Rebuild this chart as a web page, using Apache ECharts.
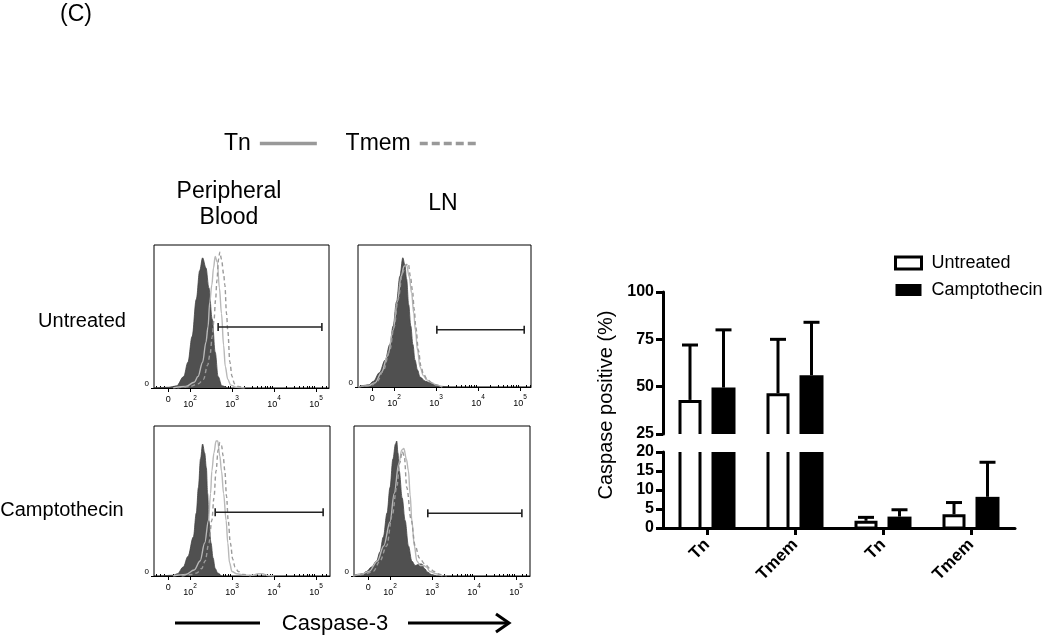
<!DOCTYPE html>
<html>
<head>
<meta charset="utf-8">
<script src="https://cdn.jsdelivr.net/npm/echarts@6/dist/echarts.min.js"></script>
<style>html,body{margin:0;padding:0;background:#fff}#c{width:1050px;height:638px}</style>
</head>
<body>
<div id="c"></div>
<script>
// ---------- Histogram data (x in display decades: "0"=1.48, 10^2=2, 10^3=3 ...; y = % of max) ----------
var xTickValues = [1.48, 2, 3, 4, 5];
var xTickLabels = ['0', '{n|10}{s|2}', '{n|10}{s|3}', '{n|10}{s|4}', '{n|10}{s|5}'];
var xMinorTicks = [1.2, 1.3, 1.38, 1.6, 1.7, 1.78, 1.85, 1.9, 1.95,
  2.3, 2.48, 2.6, 2.7, 2.78, 2.85, 2.9, 2.95,
  3.3, 3.48, 3.6, 3.7, 3.78, 3.85, 3.9, 3.95,
  4.3, 4.48, 4.6, 4.7, 4.78, 4.85, 4.9, 4.95, 5.15, 5.25];

var pbUntreatedCtrl = [[1.15,0],[1.5,0.5],[1.68,1.5],[1.85,8],[1.95,18],[2.05,36],[2.15,62],[2.23,82],[2.3,91],[2.38,84],[2.45,70],[2.53,48],[2.6,25],[2.67,8],[2.76,1.5],[2.9,0]];
var pbUntreatedTn = [[1.6,0],[1.9,1],[2.1,4],[2.19,8],[2.3,18],[2.38,32],[2.43,43],[2.47,60],[2.52,72],[2.56,84],[2.6,92],[2.65,88],[2.7,70],[2.75,52],[2.8,30],[2.84,15],[2.9,6],[2.97,2],[3.1,0.5],[3.3,0]];
var pbUntreatedTmem = [[1.7,0],[2.0,1],[2.2,3],[2.32,6],[2.42,16],[2.48,24],[2.53,36],[2.57,47],[2.61,62],[2.64,75],[2.68,90],[2.71,95],[2.75,90],[2.8,80],[2.83,72],[2.87,52],[2.9,40],[2.95,18],[3.0,8],[3.06,3],[3.15,1],[3.3,0]];

var lnUntreatedCtrl = [[1.15,0],[1.25,1],[1.4,1.5],[1.51,4],[1.65,10],[1.79,19],[1.9,30],[1.98,43],[2.06,60],[2.14,78],[2.21,91],[2.26,86],[2.3,76],[2.35,58],[2.4,43],[2.45,30],[2.5,19],[2.56,12],[2.62,7],[2.75,4],[2.86,3],[3.0,1.5],[3.1,0.5],[3.3,0]];
var lnUntreatedTn = [[1.15,0],[1.4,1],[1.55,3],[1.7,10],[1.85,22],[1.98,40],[2.08,60],[2.17,78],[2.24,85],[2.3,86],[2.36,78],[2.42,66],[2.47,52],[2.51,40],[2.56,26],[2.62,14],[2.7,8],[2.78,5],[2.9,3],[3.0,1.5],[3.15,0]];
var lnUntreatedTmem = [[1.15,0],[1.45,1],[1.6,4],[1.75,12],[1.9,26],[2.0,42],[2.1,62],[2.2,80],[2.28,86],[2.34,87],[2.39,78],[2.44,68],[2.48,55],[2.52,42],[2.58,26],[2.64,15],[2.7,9],[2.8,5],[2.9,3],[3.0,1.5],[3.15,0]];

var pbCamptoCtrl = [[1.3,0],[1.6,0.5],[1.7,1.5],[1.84,6],[1.95,13],[2.08,26],[2.15,42],[2.2,59],[2.25,78],[2.3,88],[2.35,82],[2.39,72],[2.42,55],[2.45,37],[2.5,22],[2.55,12],[2.6,5],[2.66,2],[2.75,0]];
var pbCamptoTn = [[1.6,0],[1.9,1],[2.1,4],[2.24,10],[2.35,22],[2.44,37],[2.49,55],[2.52,70],[2.57,82],[2.62,90],[2.66,90],[2.71,80],[2.75,70],[2.8,55],[2.86,37],[2.9,22],[2.94,9],[3.0,3],[3.11,1.5],[3.3,0.5],[3.5,0.5],[3.62,1.5],[3.72,1.5],[3.85,0.3],[4.0,0]];
var pbCamptoTmem = [[1.8,0],[2.05,1],[2.16,2],[2.28,5],[2.36,10],[2.45,22],[2.52,37],[2.57,52],[2.62,70],[2.67,84],[2.71,89],[2.75,87],[2.79,80],[2.83,70],[2.87,53],[2.91,37],[2.96,22],[3.02,11],[3.07,6],[3.15,3],[3.27,1],[3.45,0]];

var lnCamptoCtrl = [[1.12,0],[1.2,1],[1.35,1.5],[1.44,3],[1.56,6],[1.68,10],[1.76,16],[1.84,26],[1.93,42],[2.0,59],[2.07,78],[2.13,88],[2.16,90],[2.19,82],[2.22,70],[2.29,52],[2.36,37],[2.44,20],[2.52,10],[2.6,7],[2.7,8],[2.76,8],[2.82,5],[2.9,2.5],[2.99,1],[3.1,0]];
var lnCamptoTn = [[1.12,0],[1.3,1],[1.5,3],[1.7,10],[1.85,20],[2.0,36],[2.1,55],[2.21,75],[2.28,84],[2.33,85],[2.39,78],[2.44,70],[2.48,54],[2.52,37],[2.58,20],[2.64,10],[2.72,7],[2.8,7],[2.87,6],[2.95,3],[3.1,1.5],[3.25,0]];
var lnCamptoTmem = [[1.12,0],[1.35,1],[1.6,3],[1.76,10],[1.92,20],[2.05,40],[2.16,59],[2.23,75],[2.29,83],[2.34,80],[2.4,59],[2.5,38],[2.6,20],[2.7,12],[2.83,8],[2.95,5],[3.05,3],[3.19,1],[3.35,0]];

// gates: [xStart, xEnd, y]
var pbUntreatedGate = [2.67, 5.14, 42.7];
var lnUntreatedGate = [3.02, 5.10, 40.4];
var pbCamptoGate = [2.6, 5.17, 42.5];
var lnCamptoGate = [2.9, 5.14, 41.8];

// ---------- Bar chart data ----------
var categories = ['Tn', 'Tmem', 'Tn', 'Tmem'];
var untreatedMean = [43, 46.5, 1.9, 3.6];
var untreatedSD = [29, 28.5, 0.9, 3.1];
var camptoMean = [49.5, 56, 3.0, 8.2];
var camptoSD = [30.5, 28, 1.8, 9.1];

var FONT = 'Liberation Sans, Arial, sans-serif';

var panels = [
  {grid: {left: 154, top: 245, width: 175, height: 143}, ctrl: pbUntreatedCtrl, tn: pbUntreatedTn, tmem: pbUntreatedTmem, gate: pbUntreatedGate},
  {grid: {left: 358, top: 245, width: 173, height: 142}, ctrl: lnUntreatedCtrl, tn: lnUntreatedTn, tmem: lnUntreatedTmem, gate: lnUntreatedGate},
  {grid: {left: 154, top: 426, width: 176, height: 150}, ctrl: pbCamptoCtrl, tn: pbCamptoTn, tmem: pbCamptoTmem, gate: pbCamptoGate},
  {grid: {left: 354, top: 426, width: 176, height: 150}, ctrl: lnCamptoCtrl, tn: lnCamptoTn, tmem: lnCamptoTmem, gate: lnCamptoGate}
];

var grids = [], xAxes = [], yAxes = [], series = [];
panels.forEach(function (p, i) {
  grids.push(Object.assign({show: true, borderColor: '#000', borderWidth: 1, backgroundColor: '#fff', containLabel: false}, p.grid));
  var xmax = 2 + (p.grid.width - 36) / 42;
  xAxes.push({
    type: 'value', gridIndex: i, min: 1.143, max: xmax, splitLine: {show: false},
    axisLine: {show: true, onZero: false, lineStyle: {color: '#000', width: 1}},
    axisTick: {show: true, customValues: xTickValues, length: 4, lineStyle: {color: '#000', width: 1}},
    axisLabel: {
      show: true, customValues: xTickValues, margin: 7, color: '#000', fontFamily: FONT, fontSize: 9,
      formatter: function (v) {
        var best = 0;
        for (var k = 0; k < xTickValues.length; k++) if (Math.abs(xTickValues[k] - v) < Math.abs(xTickValues[best] - v)) best = k;
        return xTickLabels[best];
      },
      rich: {
        n: {fontSize: 9, fontFamily: FONT, color: '#000', verticalAlign: 'bottom', lineHeight: 14},
        s: {fontSize: 6.5, fontFamily: FONT, color: '#000', verticalAlign: 'top', lineHeight: 14}
      }
    }
  });
  xAxes.push({
    type: 'value', gridIndex: i, min: 1.143, max: xmax, splitLine: {show: false},
    axisLine: {show: false},
    axisTick: {show: true, customValues: xMinorTicks, length: 2, lineStyle: {color: '#000', width: 1}},
    axisLabel: {show: false}
  });
  yAxes.push({
    type: 'value', gridIndex: i, min: 0, max: 100, splitLine: {show: false},
    axisLine: {show: false},
    axisTick: {show: true, customValues: [0], length: 3, lineStyle: {color: '#000'}},
    axisLabel: {show: true, customValues: [0], margin: 5, fontSize: 8, color: '#000', fontFamily: FONT, verticalAlign: 'bottom'}
  });
  var common = {type: 'line', xAxisIndex: 2 * i, yAxisIndex: i, symbol: 'none', smooth: 0.35, smoothMonotone: 'x', animation: false};
  series.push(Object.assign({}, common, {name: 'Control', data: p.ctrl, z: 2,
    lineStyle: {color: '#444', width: 0.8}, areaStyle: {color: '#505050', opacity: 1}}));
  series.push(Object.assign({}, common, {name: 'Tn', data: p.tn, z: 3, itemStyle: {color: '#b8b8b8'},
    lineStyle: {color: '#b8b8b8', width: 1.4}}));
  series.push(Object.assign({}, common, {name: 'Tmem', data: p.tmem, z: 4, itemStyle: {color: '#9a9a9a'},
    lineStyle: {color: '#9a9a9a', width: 1.4, type: [4, 3]}}));
  series.push({type: 'line', name: 'gate', xAxisIndex: 2 * i, yAxisIndex: i, z: 5, animation: false,
    data: [[p.gate[0], p.gate[2]], [p.gate[1], p.gate[2]]],
    symbol: 'rect', symbolSize: [1.6, 8], itemStyle: {color: '#222'}, lineStyle: {color: '#222', width: 1.5}});
});

// ---------- Bar chart (broken axis: upper 25-100, lower 0-20) ----------
grids.push({left: 663, top: 292, right: 35, height: 142});   // index 4
grids.push({left: 663, top: 452, right: 35, height: 76});    // index 5
xAxes.push({type: 'category', gridIndex: 4, data: categories, show: false});
xAxes.push({
  type: 'category', gridIndex: 5, data: categories,
  axisLine: {show: true, lineStyle: {color: '#000', width: 3}},
  axisTick: {show: true, alignWithLabel: true, length: 7, lineStyle: {color: '#000', width: 3}},
  axisLabel: {rotate: 45, margin: 14, fontSize: 17, fontWeight: 'bold', color: '#000', fontFamily: FONT, interval: 0}
});
var barYAxisCommon = {
  type: 'value', splitLine: {show: false},
  axisLine: {show: true, lineStyle: {color: '#000', width: 3}},
  axisTick: {show: true, length: 7, lineStyle: {color: '#000', width: 3}},
  axisLabel: {margin: 9, fontSize: 16, fontWeight: 'bold', color: '#000', fontFamily: FONT}
};
yAxes.push(Object.assign({}, barYAxisCommon, {gridIndex: 4, min: 25, max: 100, interval: 25}));
yAxes.push(Object.assign({}, barYAxisCommon, {gridIndex: 5, min: 0, max: 20, interval: 5}));

function seg(x1, y1, x2, y2) {
  return {type: 'line', shape: {x1: x1, y1: y1, x2: x2, y2: y2}, style: {stroke: '#000', lineWidth: 3}};
}
function barRenderer(kind, lo, hi, offset) {
  return function (params, api) {
    var cat = api.value(0), v = api.value(1), sd = api.value(2);
    var base = api.coord([cat, lo]);
    var cx = base[0] + offset, yLo = base[1];
    var kids = [];
    if (v > lo) {
      var yTop = api.coord([cat, Math.min(v, hi)])[1];
      if (kind === 'filled') {
        kids.push({type: 'rect', shape: {x: cx - 12, y: yTop, width: 24, height: yLo - yTop}, style: {fill: '#000'}});
      } else {
        var h = 10;
        if (v <= hi) {
          if (lo === 0) {
            kids.push({type: 'rect', shape: {x: cx - h, y: yTop + 1.5, width: 2 * h, height: yLo - yTop - 1.5},
              style: {stroke: '#000', lineWidth: 3, fill: '#fff'}});
          } else {
            kids.push({type: 'polyline', shape: {points: [[cx - h, yLo], [cx - h, yTop + 1.5], [cx + h, yTop + 1.5], [cx + h, yLo]]},
              style: {stroke: '#000', lineWidth: 3, fill: null}});
          }
        } else {
          kids.push(seg(cx - h, yLo, cx - h, yTop));
          kids.push(seg(cx + h, yLo, cx + h, yTop));
        }
      }
    }
    var eTop = v + sd;
    if (v < hi && eTop > lo) {
      var y0 = api.coord([cat, Math.max(v, lo)])[1];
      var y1 = api.coord([cat, Math.min(eTop, hi)])[1];
      kids.push(seg(cx, y0, cx, y1));
      if (eTop <= hi) kids.push(seg(cx - 8, y1, cx + 8, y1));
    }
    return {type: 'group', children: kids};
  };
}
var untreatedRows = categories.map(function (c, i) { return [i, untreatedMean[i], untreatedSD[i]]; });
var camptoRows = categories.map(function (c, i) { return [i, camptoMean[i], camptoSD[i]]; });
[[4, 8, 25, 100], [5, 9, 0, 20]].forEach(function (g) {
  series.push({type: 'custom', name: 'Untreated', xAxisIndex: g[1], yAxisIndex: g[0], data: untreatedRows,
    encode: {x: 0, y: 1}, itemStyle: {color: '#fff', borderColor: '#000'}, renderItem: barRenderer('open', g[2], g[3], -17), z: 3});
  series.push({type: 'custom', name: 'Camptothecin', xAxisIndex: g[1], yAxisIndex: g[0], data: camptoRows,
    encode: {x: 0, y: 1}, itemStyle: {color: '#000'}, renderItem: barRenderer('filled', g[2], g[3], 16.5), z: 3});
});

var hidden = {color: 'rgba(0,0,0,0)', borderColor: 'rgba(0,0,0,0)', borderWidth: 0, opacity: 0};
var option = {
  animation: false,
  backgroundColor: '#fff',
  grid: grids, xAxis: xAxes, yAxis: yAxes, series: series,
  legend: [
    {
      data: [
        {name: 'Tn', itemStyle: hidden, lineStyle: {color: '#999', width: 3.5, type: 'solid'}},
        {name: 'Tmem', itemStyle: hidden, lineStyle: {color: '#999', width: 3.5, type: [8, 4]}}
      ],
      left: 219, top: 127, orient: 'horizontal', align: 'right',
      itemWidth: 57, itemHeight: 14, itemGap: 27, selectedMode: false,
      itemStyle: hidden,
      lineStyle: {color: '#999', width: 3.5},
      textStyle: {fontSize: 23, color: '#000', fontFamily: FONT, padding: [0, 4, 0, 0]}
    },
    {
      data: [
        {name: 'Untreated', icon: 'rect', itemStyle: {color: '#fff', borderColor: '#000', borderWidth: 3}},
        {name: 'Camptothecin', icon: 'rect', itemStyle: {color: '#000', borderColor: '#000', borderWidth: 0}}
      ],
      left: 889, top: 249, orient: 'vertical', itemWidth: 26, itemHeight: 12, itemGap: 9, selectedMode: false,
      textStyle: {fontSize: 18, color: '#000', fontFamily: FONT, padding: [0, 0, 0, 5]}
    }
  ],
  graphic: [
    {type: 'text', left: 60, top: 3, style: {text: '(C)', fontSize: 23, fontFamily: FONT, fill: '#000'}},
    {type: 'text', x: 229, y: 205, style: {text: 'Peripheral\nBlood', fontSize: 23, lineHeight: 26, fontFamily: FONT, fill: '#000', align: 'center', verticalAlign: 'middle'}},
    {type: 'text', x: 443, y: 204, style: {text: 'LN', fontSize: 23, fontFamily: FONT, fill: '#000', align: 'center', verticalAlign: 'middle'}},
    {type: 'text', x: 82, y: 321, style: {text: 'Untreated', fontSize: 20, fontFamily: FONT, fill: '#000', align: 'center', verticalAlign: 'middle'}},
    {type: 'text', x: 62, y: 510, style: {text: 'Camptothecin', fontSize: 20, fontFamily: FONT, fill: '#000', align: 'center', verticalAlign: 'middle'}},
    {type: 'text', x: 606, y: 405, rotation: Math.PI / 2, style: {text: 'Caspase positive (%)', fontSize: 20, fontFamily: FONT, fill: '#000', align: 'center', verticalAlign: 'middle'}},
    {type: 'line', shape: {x1: 175, y1: 623, x2: 260, y2: 623}, style: {stroke: '#000', lineWidth: 3}},
    {type: 'text', x: 335, y: 624, style: {text: 'Caspase-3', fontSize: 22, fontFamily: FONT, fill: '#000', align: 'center', verticalAlign: 'middle'}},
    {type: 'line', shape: {x1: 408, y1: 623, x2: 507, y2: 623}, style: {stroke: '#000', lineWidth: 3}},
    {type: 'polyline', shape: {points: [[496, 614], [509, 623], [496, 632]]}, style: {stroke: '#000', lineWidth: 3, fill: null}}
  ]
};
var chart = echarts.init(document.getElementById('c'), null, {renderer: 'canvas'});
chart.setOption(option);
</script>
</body>
</html>
